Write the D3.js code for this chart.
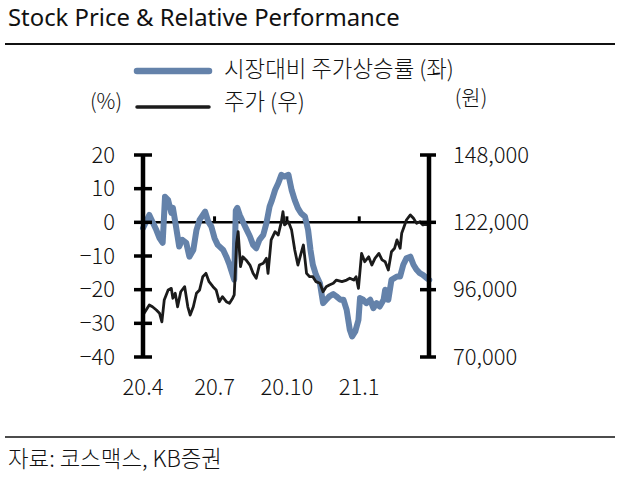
<!DOCTYPE html>
<html><head><meta charset="utf-8">
<script src="https://cdn.jsdelivr.net/npm/d3@7"></script>
<style>
html,body{margin:0;padding:0;background:#fff;}
svg{display:block;}
text{font-family:"Noto Sans CJK KR","Noto Sans",sans-serif;fill:#111;font-weight:300;}
</style></head>
<body>
<svg id="chart" width="622" height="477"></svg>
<script>
// ---- data ----
const relDates = ["2020-04-01","2020-04-05","2020-04-09","2020-04-13","2020-04-18","2020-04-22","2020-04-26","2020-04-29","2020-05-03","2020-05-07","2020-05-09","2020-05-12","2020-05-15","2020-05-17","2020-05-21","2020-05-26","2020-05-30","2020-06-04","2020-06-08","2020-06-12","2020-06-19","2020-06-23","2020-06-27","2020-07-01","2020-07-05","2020-07-12","2020-07-16","2020-07-20","2020-07-26","2020-07-28","2020-07-30","2020-08-02","2020-08-06","2020-08-10","2020-08-15","2020-08-19","2020-08-23","2020-08-27","2020-09-01","2020-09-05","2020-09-09","2020-09-12","2020-09-16","2020-09-20","2020-09-24","2020-09-28","2020-10-03","2020-10-07","2020-10-11","2020-10-15","2020-10-19","2020-10-24","2020-10-28","2020-10-31","2020-11-03","2020-11-07","2020-11-12","2020-11-16","2020-11-20","2020-11-24","2020-11-29","2020-12-03","2020-12-08","2020-12-12","2020-12-16","2020-12-20","2020-12-23","2020-12-27","2020-12-31","2021-01-02","2021-01-06","2021-01-10","2021-01-15","2021-01-19","2021-01-23","2021-01-27","2021-02-01","2021-02-03","2021-02-07","2021-02-11","2021-02-18","2021-02-22","2021-02-26","2021-03-02","2021-03-07","2021-03-11","2021-03-15","2021-03-19","2021-03-23","2021-03-28","2021-03-31"];
const relValues = [-1.7,0.2,2.2,0.2,-2.3,-4.7,-6.1,7.6,6.6,2.8,4.3,0.2,-4.2,-7.2,-5.2,-6.1,-10.2,-8.2,-2.3,0.7,3.2,0.2,-1.3,-4.7,-6.7,-8.2,-10.2,-12.6,-17.0,3.5,4.3,2.2,0.2,-1.8,-4.2,-6.7,-7.7,-5.2,-3.7,-0.2,4.7,6.6,9.6,11.6,14.1,13.6,14.1,9.6,6.6,4.2,2.7,1.7,-2.3,-8.2,-12.6,-15.6,-18.1,-24.0,-23.0,-22.0,-21.3,-22.0,-23.0,-23.0,-26.0,-31.9,-33.9,-32.4,-29.0,-22.5,-23.0,-24.0,-23.0,-25.5,-24.0,-25.0,-23.0,-20.0,-23.0,-17.1,-16.1,-16.1,-12.6,-10.7,-10.2,-12.6,-14.1,-15.1,-15.6,-16.6,-17.1];

const priceDates = ["2020-04-01","2020-04-05","2020-04-09","2020-04-13","2020-04-18","2020-04-22","2020-04-25","2020-04-28","2020-05-03","2020-05-07","2020-05-09","2020-05-12","2020-05-15","2020-05-19","2020-05-24","2020-05-28","2020-05-31","2020-06-04","2020-06-08","2020-06-12","2020-06-16","2020-06-20","2020-06-24","2020-06-29","2020-07-03","2020-07-07","2020-07-11","2020-07-16","2020-07-20","2020-07-24","2020-07-26","2020-07-29","2020-07-31","2020-08-03","2020-08-06","2020-08-10","2020-08-15","2020-08-19","2020-08-23","2020-08-27","2020-09-01","2020-09-05","2020-09-07","2020-09-11","2020-09-16","2020-09-20","2020-09-24","2020-09-26","2020-09-28","2020-10-03","2020-10-07","2020-10-11","2020-10-15","2020-10-19","2020-10-22","2020-10-26","2020-10-30","2020-11-03","2020-11-07","2020-11-12","2020-11-16","2020-11-20","2020-11-24","2020-11-29","2020-12-03","2020-12-10","2020-12-16","2020-12-20","2020-12-25","2020-12-28","2020-12-31","2021-01-04","2021-01-08","2021-01-13","2021-01-17","2021-01-21","2021-01-26","2021-01-30","2021-02-03","2021-02-07","2021-02-11","2021-02-15","2021-02-18","2021-02-22","2021-02-24","2021-02-27","2021-03-02","2021-03-07","2021-03-11","2021-03-15","2021-03-19","2021-03-23","2021-03-28","2021-03-31"];
const priceValues = [86200,88150,90100,89400,88150,86900,83600,92000,95900,96500,92700,94600,89400,95200,97150,89400,86200,89400,94600,95900,101000,102300,99100,97150,95900,91350,93300,91350,90750,92700,94000,113900,118400,104900,108700,107500,105500,102300,100400,105500,106200,108100,102300,115200,118400,117100,122250,126100,121000,122250,119000,111300,105500,110000,113250,102300,101000,101000,99100,98450,95200,97150,97800,98450,99700,99100,99700,100400,99700,101000,96500,110000,106800,108700,105500,108100,110000,107500,106800,103600,110650,112000,115200,112000,117750,120300,122900,124850,123550,121600,122250,121000,121600,120300];

const leftTicks = [-40,-30,-20,-10,0,10,20];
const rightTicks = [70000,96000,122000,148000];
const xTickDates = ["2020-04-01","2020-07-01","2020-10-01","2021-01-01","2021-04-01"];
const xTickLabels = ["20.4","20.7","20.10","21.1",""];

const titleText = "Stock Price & Relative Performance";
const legendLabels = ["시장대비 주가상승률 (좌)","주가 (우)"];
const leftUnit = "(%)", rightUnit = "(원)";
const sourceText = "자료: 코스맥스, KB증권";

// ---- drawing ----
const parse = d3.timeParse("%Y-%m-%d");
const svg = d3.select("#chart");
const BLUE = "#6482AA", BLACK = "#1b1b1b";

const x = d3.scaleTime().domain([parse("2020-04-01"), parse("2021-04-01")]).range([143, 430]);
const yL = d3.scaleLinear().domain([-40, 20]).range([357, 155]);
const yR = d3.scaleLinear().domain([70000, 148000]).range([357, 155]);

function fitText(sel, target) {
  const fs = +sel.attr("font-size");
  const w = sel.node().getComputedTextLength();
  if (w > 0) sel.attr("font-size", fs * target / w);
}

// title
const t = svg.append("text").attr("x", 8).attr("y", 26).attr("font-size", 21)
  .style("font-family", "'Noto Sans', sans-serif").style("font-weight", 400).text(titleText);
fitText(t, 392);
svg.append("line").attr("x1", 5).attr("x2", 615).attr("y1", 44).attr("y2", 44)
  .attr("stroke", "#111").attr("stroke-width", 2);

// legend
svg.append("line").attr("x1", 137).attr("x2", 209).attr("y1", 71).attr("y2", 71)
  .attr("stroke", BLUE).attr("stroke-width", 6.5).attr("stroke-linecap", "round");
svg.append("line").attr("x1", 137).attr("x2", 209).attr("y1", 107).attr("y2", 107)
  .attr("stroke", BLACK).attr("stroke-width", 3.5).attr("stroke-linecap", "round");
const lg1 = svg.append("text").attr("x", 224).attr("y", 77).attr("font-size", 20).text(legendLabels[0]);
fitText(lg1, 230);
const lg2 = svg.append("text").attr("x", 224).attr("y", 110).attr("font-size", lg1.attr("font-size")).text(legendLabels[1]);
svg.append("text").attr("x", 106).attr("y", 109).attr("font-size", 21).attr("text-anchor", "middle").text(leftUnit);
svg.append("text").attr("x", 471).attr("y", 105).attr("font-size", 21).attr("text-anchor", "middle").text(rightUnit);

// zero line (x axis) and its ticks
const y0 = yL(0);
svg.append("line").attr("x1", x.range()[0]).attr("x2", x.range()[1]).attr("y1", y0).attr("y2", y0)
  .attr("stroke", "#000").attr("stroke-width", 2.5);
svg.selectAll(".xt").data(xTickDates.slice(1, 4)).enter().append("line")
  .attr("x1", d => x(parse(d))).attr("x2", d => x(parse(d)))
  .attr("y1", y0).attr("y2", y0 - 6).attr("stroke", "#000").attr("stroke-width", 3);
svg.selectAll(".xl").data(xTickDates).enter().append("text")
  .attr("x", d => x(parse(d))).attr("y", 395).attr("font-size", 22).attr("text-anchor", "middle")
  .text((d, i) => xTickLabels[i]);

// lines
const relData = relDates.map((d, i) => ({ d: parse(d), v: relValues[i] }));
const priceData = priceDates.map((d, i) => ({ d: parse(d), v: priceValues[i] }));
svg.append("path").datum(relData)
  .attr("d", d3.line().x(p => x(p.d)).y(p => yL(p.v)))
  .attr("fill", "none").attr("stroke", BLUE).attr("stroke-width", 6).attr("stroke-linejoin", "round").attr("stroke-linecap", "round");
svg.append("path").datum(priceData)
  .attr("d", d3.line().x(p => x(p.d)).y(p => yR(p.v)))
  .attr("fill", "none").attr("stroke", BLACK).attr("stroke-width", 2.8).attr("stroke-linejoin", "round");

// left axis
const xl = x.range()[0];
svg.append("line").attr("x1", xl).attr("x2", xl).attr("y1", yL(20)).attr("y2", yL(-40))
  .attr("stroke", "#000").attr("stroke-width", 4.5);
svg.selectAll(".lt").data(leftTicks).enter().append("line")
  .attr("x1", xl - 9).attr("x2", xl + 9).attr("y1", d => yL(d)).attr("y2", d => yL(d))
  .attr("stroke", "#000").attr("stroke-width", 3.5);
const fmtL = d3.format("d");
svg.selectAll(".ll").data(leftTicks).enter().append("text")
  .attr("x", 115).attr("y", d => yL(d) + 7.5).attr("font-size", 22).attr("text-anchor", "end")
  .text(d => fmtL(d));

// right axis
const xr = x.range()[1] - 1;
svg.append("line").attr("x1", xr).attr("x2", xr).attr("y1", yR(148000)).attr("y2", yR(70000))
  .attr("stroke", "#000").attr("stroke-width", 4.5);
svg.selectAll(".rt").data(rightTicks).enter().append("line")
  .attr("x1", xr - 9).attr("x2", xr + 7).attr("y1", d => yR(d)).attr("y2", d => yR(d))
  .attr("stroke", "#000").attr("stroke-width", 3.5);
svg.selectAll(".rl").data(rightTicks).enter().append("text")
  .attr("x", 453).attr("y", d => yR(d) + 7.5).attr("font-size", 22)
  .text(d => d3.format(",")(d));

// source
svg.append("line").attr("x1", 5).attr("x2", 615).attr("y1", 437).attr("y2", 437)
  .attr("stroke", "#111").attr("stroke-width", 1.5);
const src = svg.append("text").attr("x", 8).attr("y", 467).attr("font-size", 20).text(sourceText);
fitText(src, 214);
</script>
</body></html>
